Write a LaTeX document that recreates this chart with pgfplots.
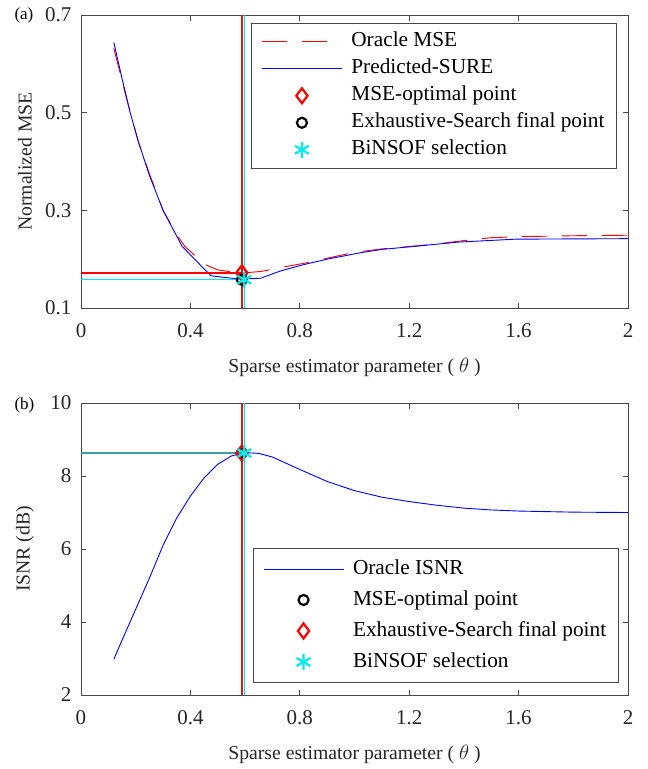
\documentclass[border=0pt]{standalone}
\usepackage{fontspec}
\setmainfont{Liberation Serif}
\usepackage{pgfplots}
\pgfplotsset{compat=1.18}
\definecolor{axgray}{RGB}{70,70,70}
\definecolor{vred}{RGB}{200,30,30}
\definecolor{mycyan}{RGB}{0,235,235}
\definecolor{tealline}{RGB}{60,160,160}
\pgfplotsset{
  common/.style={
    scale only axis,
    width=547pt,
    xmin=0, xmax=2,
    xtick={0,0.4,0.8,1.2,1.6,2},
    xticklabels={0,0.4,0.8,1.2,1.6,2},
    tick align=inside,
    major tick length=5.5pt,
    axis line style={axgray, line width=0.7pt},
    major tick style={axgray, line width=0.7pt},
    /pgf/number format/assume math mode=true,
    tick label style={font=\fontsize{21}{25}\selectfont, text=black!85},
    xticklabel style={yshift=-12pt},
    yticklabel style={xshift=-6pt},
    label style={font=\fontsize{19.7}{23}\selectfont, text=black!85},
    xlabel={Sparse estimator parameter ( $\theta$ )},
    xlabel style={at={(0.5,0)}, anchor=center, yshift=-59pt},
    ylabel style={at={(0,0.5)}, anchor=center, yshift=56pt},
    legend cell align=left,
    legend style={font=\fontsize{21.3}{25}\selectfont, draw=axgray, line width=0.7pt,
      inner xsep=10pt, inner ysep=5pt, column sep=7pt,
      anchor=north west},
  },
}
\begin{document}
\begin{tikzpicture}
\useasboundingbox (0pt,0pt) rectangle (648pt,-769pt);
% ---------- (a) ----------
\begin{axis}[common,
  at={(81pt,-308pt)}, anchor=south west,
  height=293pt,
  ymin=0.1, ymax=0.7,
  ytick={0.1,0.3,0.5,0.7},
  yticklabels={0.1,0.3,0.5,0.7},
  ylabel={Normalized MSE},
  legend image code/.code={\draw[mark repeat=2,mark phase=2,#1] plot coordinates {(0pt,0pt) (40pt,0pt) (80pt,0pt)};},
  legend style={at={(0.311,0.973)}, nodes={text height=14.5pt, text depth=4.5pt, inner ysep=4pt}},
]
\addplot[red, line width=0.9pt, dash pattern=on 25pt off 15pt] coordinates {
(0.12,0.632)(0.15,0.565)(0.18,0.5)(0.21,0.44)(0.25,0.375)(0.3,0.30)(0.35,0.25)(0.38,0.226)(0.45,0.19)(0.5,0.178)(0.55,0.174)(0.588,0.172)(0.62,0.173)(0.66,0.175)(0.75,0.185)(0.82,0.192)(0.9,0.202)(1.0,0.214)(1.1,0.221)(1.2,0.226)(1.3,0.231)(1.4,0.238)(1.5,0.244)(1.6,0.246)(1.8,0.248)(2.0,0.249)};
\addlegendentry{Oracle MSE}
\addplot[blue, line width=0.9pt] coordinates {
(0.12,0.644)(0.15,0.57)(0.18,0.5)(0.21,0.44)(0.25,0.372)(0.3,0.30)(0.37,0.226)(0.475,0.166)(0.58,0.159)(0.657,0.161)(0.73,0.176)(0.815,0.189)(0.9,0.2)(1.02,0.213)(1.1,0.22)(1.215,0.226)(1.38,0.235)(1.59,0.241)(2.0,0.242)};
\addlegendentry{Predicted-SURE}
\addplot[draw=red, line width=1.2pt, forget plot] coordinates {(0,0.1716)(0.588,0.1716)};
\addplot[draw=mycyan, line width=1.4pt, forget plot] coordinates {(0,0.158)(0.597,0.158)};
\addplot[draw=vred, line width=2pt, forget plot] coordinates {(0.588,0.1)(0.588,0.7)};
\addplot[draw=mycyan, line width=1.4pt, forget plot] coordinates {(0.597,0.1)(0.597,0.7)};
\addplot[only marks, mark=diamond, mark size=7.5pt, red, line width=2.2pt] coordinates {(0.588,0.172)};
\addlegendentry{MSE-optimal point}
\addplot[only marks, mark=o, mark size=5pt, black, line width=2.2pt] coordinates {(0.588,0.158)};
\addlegendentry{Exhaustive-Search final point}
\addplot[only marks, mark=asterisk, mark size=8pt, mycyan, line width=2.2pt] coordinates {(0.597,0.158)};
\addlegendentry{BiNSOF selection}
\end{axis}
\node[anchor=west, font=\fontsize{17}{20}\selectfont] at (11pt,-15pt) {(a)};
% ---------- (b) ----------
\begin{axis}[common,
  at={(81pt,-695pt)}, anchor=south west,
  height=292pt,
  ymin=2, ymax=10,
  ytick={2,4,6,8,10},
  yticklabels={2,4,6,8,10},
  ylabel={ISNR (dB)},
  legend image code/.code={\draw[mark repeat=2,mark phase=2,#1] plot coordinates {(0pt,0pt) (40pt,0pt) (80pt,0pt)};},
  legend style={at={(0.314,0.503)}, nodes={text height=16pt, text depth=5pt, inner ysep=5pt}},
]
\addplot[blue, line width=0.9pt] coordinates {
(0.12,2.98)(0.15,3.5)(0.2,4.35)(0.25,5.2)(0.3,6.1)(0.35,6.85)(0.4,7.45)(0.45,7.95)(0.5,8.32)(0.55,8.55)(0.6,8.64)(0.65,8.62)(0.7,8.52)(0.8,8.18)(0.9,7.85)(1.0,7.6)(1.1,7.42)(1.2,7.3)(1.3,7.2)(1.4,7.12)(1.5,7.07)(1.6,7.04)(1.8,7.01)(2.0,7.0)};
\addlegendentry{Oracle ISNR}
\addplot[draw=tealline, line width=1.4pt, forget plot] coordinates {(0,8.63)(0.597,8.63)};
\addplot[draw=vred, line width=2pt, forget plot] coordinates {(0.588,2)(0.588,10)};
\addplot[draw=mycyan, line width=1.4pt, forget plot] coordinates {(0.597,2)(0.597,10)};
\addplot[only marks, mark=o, mark size=5pt, black, line width=2.2pt] coordinates {(0.588,8.63)};
\addlegendentry{MSE-optimal point}
\addplot[only marks, mark=diamond, mark size=7.5pt, red, line width=2.2pt] coordinates {(0.588,8.63)};
\addlegendentry{Exhaustive-Search final point}
\addplot[only marks, mark=asterisk, mark size=8pt, mycyan, line width=2.2pt] coordinates {(0.597,8.63)};
\addlegendentry{BiNSOF selection}
\end{axis}
\node[anchor=west, font=\fontsize{17}{20}\selectfont] at (11pt,-405pt) {(b)};
\end{tikzpicture}
\end{document}
